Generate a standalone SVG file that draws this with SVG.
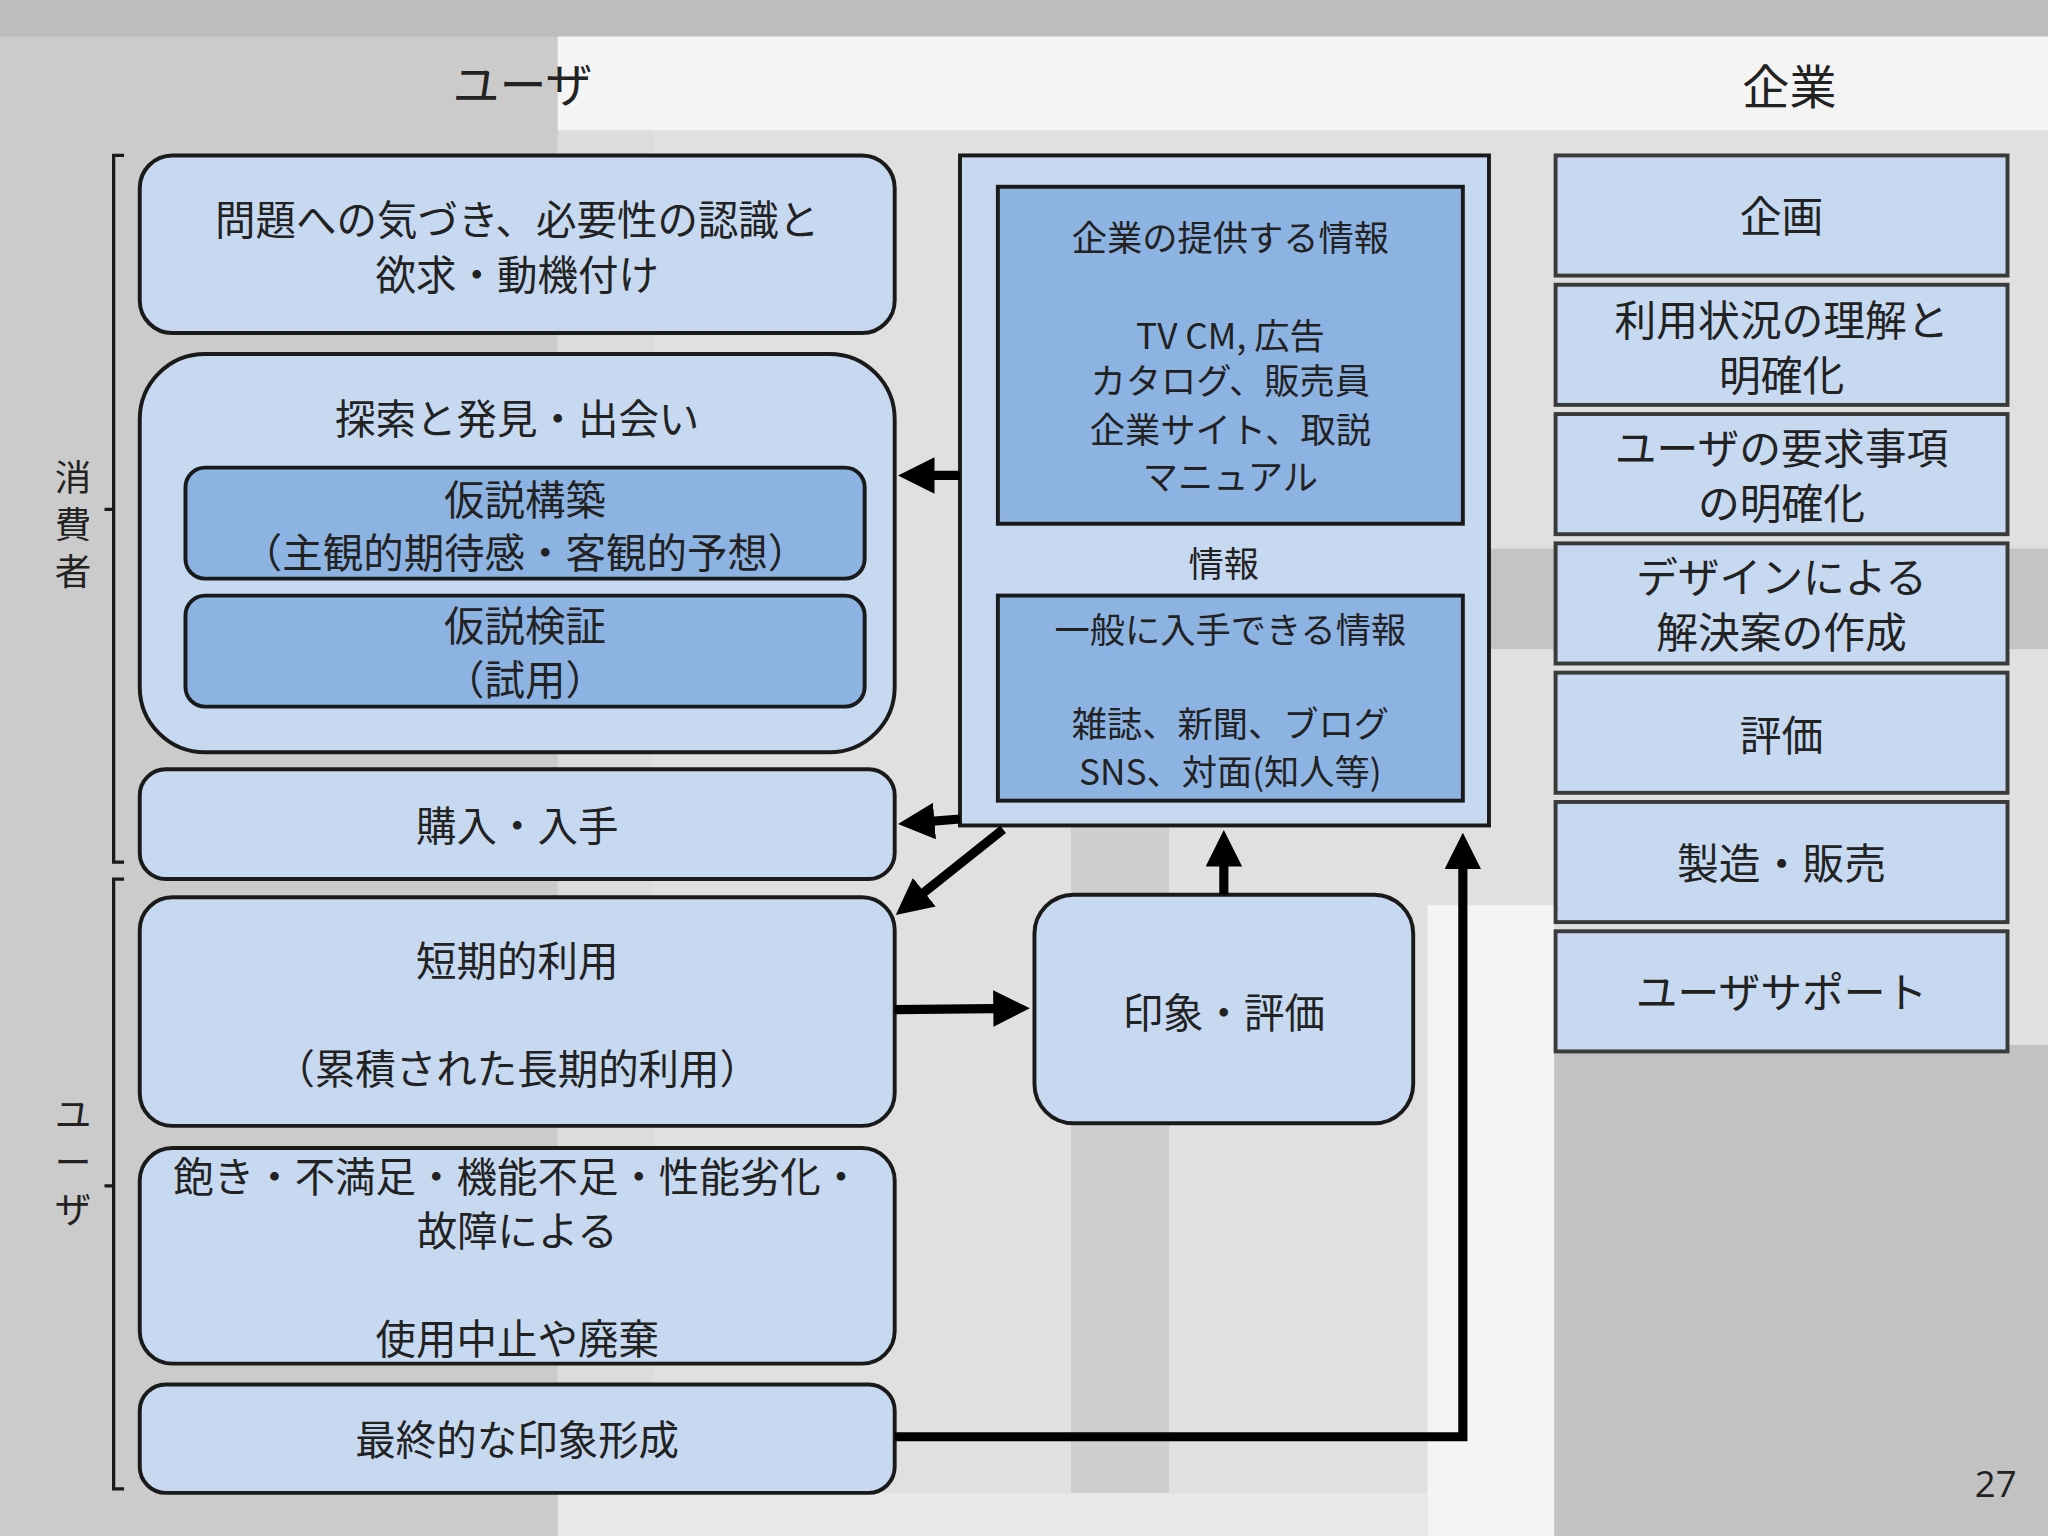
<svg xmlns="http://www.w3.org/2000/svg" width="2048" height="1536" viewBox="0 0 2048 1536">
<style>
.b{fill:#c6d9f1;stroke:#1a1a1a;stroke-width:3}
.d{fill:#8db3e2;stroke:#1a1a1a;stroke-width:3}
.r{fill:#c6d9f1;stroke:#3a3a3a;stroke-width:3}
text{font-family:"Noto Sans CJK JP","Liberation Serif",serif;fill:#222;text-anchor:middle}
.t{font-size:31px}.s{font-size:27px}.h{font-size:36px}.rt{font-size:32px}.v{font-size:28px}
.a{stroke:#000;stroke-width:7;fill:none}
.br{stroke:#1a1a1a;stroke-width:2.5;fill:none}
</style>
<defs><marker id="m" markerWidth="4" markerHeight="4" refX="2.5" refY="2" orient="auto" markerUnits="strokeWidth"><path d="M0,0L4,2L0,4z" fill="#000"/></marker></defs>
<g transform="scale(1.30612)">
<g id="bg">
<rect width="1568" height="1176" fill="#cbcbcb"/>
<rect width="1568" height="28" fill="#bdbdbd"/>
<rect x="427" y="28" width="1141" height="72" fill="#f4f4f4"/>
<rect x="427" y="100" width="73" height="1076" fill="#dcdcdc"/>
<rect x="500" y="100" width="1068" height="1076" fill="#e0e0e0"/>
<rect x="1140" y="420" width="428" height="77" fill="#c4c4c4"/>
<rect x="820" y="632" width="75" height="544" fill="#cfcfcf"/>
<rect x="1093" y="693" width="97" height="483" fill="#f4f4f4"/>
<rect x="1190" y="800" width="378" height="376" fill="#c2c2c2"/>
<rect x="427" y="1143" width="666" height="33" fill="#e8e8e8"/>
</g>
<g id="headers"><text x="400" y="78" class="h">ユーザ</text><text x="1370" y="80" class="h">企業</text><text x="1528" y="1146" style="font-family:'Open Sans','Liberation Sans',sans-serif;font-size:28px">27</text></g>
<g id="brackets">
<path class="br" d="M95,119H87V660H95M87,390H80"/>
<path class="br" d="M95,673H87V1140H95M87,908H80"/>
<text x="56" y="376" class="v">消</text><text x="56" y="412" class="v">費</text><text x="56" y="448" class="v">者</text>
<text x="56" y="864" class="v">ユ</text><text x="56" y="900" class="v">ー</text><text x="56" y="936" class="v">ザ</text>
</g>
<g id="n1"><rect class="b" x="107" y="119" width="578" height="136" rx="25"/><text x="396" y="180" class="t">問題への気づき、必要性の認識と</text><text x="396" y="222" class="t">欲求・動機付け</text></g>
<g id="n2"><rect class="b" x="107" y="271" width="578" height="305" rx="50"/><text x="396" y="332" class="t">探索と発見・出会い</text>
<rect class="d" x="142" y="358" width="520" height="85" rx="15"/><text x="402" y="394" class="t">仮説構築</text><text x="402" y="435" class="t">（主観的期待感・客観的予想）</text>
<rect class="d" x="142" y="456" width="520" height="85" rx="15"/><text x="402" y="491" class="t">仮説検証</text><text x="402" y="532" class="t">（試用）</text></g>
<g id="n3"><rect class="b" x="107" y="589" width="578" height="84" rx="20"/><text x="396" y="644" class="t">購入・入手</text></g>
<g id="n4"><rect class="b" x="107" y="687" width="578" height="175" rx="25"/><text x="396" y="747" class="t">短期的利用</text><text x="396" y="830" class="t">（累積された長期的利用）</text></g>
<g id="n5"><rect class="b" x="107" y="879" width="578" height="165" rx="25"/><text x="396" y="913" class="t">飽き・不満足・機能不足・性能劣化・</text><text x="396" y="954" class="t">故障による</text><text x="396" y="1037" class="t">使用中止や廃棄</text></g>
<g id="n6"><rect class="b" x="107" y="1060" width="578" height="83" rx="20"/><text x="396" y="1114" class="t">最終的な印象形成</text></g>
<g id="info"><rect class="b" x="735" y="119" width="405" height="513"/>
<rect class="d" x="764" y="143" width="356" height="258"/>
<text x="942" y="192" class="s">企業の提供する情報</text><text x="942" y="267" class="s">TV CM, 広告</text><text x="942" y="302" class="s">カタログ、販売員</text><text x="942" y="339" class="s">企業サイト、取説</text><text x="942" y="375" class="s">マニュアル</text>
<text x="937" y="442" class="s">情報</text>
<rect class="d" x="764" y="456" width="356" height="157"/>
<text x="942" y="492" class="s">一般に入手できる情報</text><text x="942" y="564" class="s">雑誌、新聞、ブログ</text><text x="942" y="601" class="s">SNS、対面(知人等)</text></g>
<g id="imp"><rect class="b" x="792" y="685" width="290" height="175" rx="30"/><text x="937" y="787" class="t">印象・評価</text></g>
<g id="right">
<rect class="r" x="1191" y="119" width="346" height="92"/><text x="1364" y="178" class="rt">企画</text>
<rect class="r" x="1191" y="218" width="346" height="92"/><text x="1364" y="257" class="rt">利用状況の理解と</text><text x="1364" y="299" class="rt">明確化</text>
<rect class="r" x="1191" y="317" width="346" height="92"/><text x="1364" y="355" class="rt">ユーザの要求事項</text><text x="1364" y="397" class="rt">の明確化</text>
<rect class="r" x="1191" y="416" width="346" height="92"/><text x="1364" y="454" class="rt">デザインによる</text><text x="1364" y="496" class="rt">解決案の作成</text>
<rect class="r" x="1191" y="515" width="346" height="92"/><text x="1364" y="575" class="rt">評価</text>
<rect class="r" x="1191" y="614" width="346" height="92"/><text x="1364" y="673" class="rt">製造・販売</text>
<rect class="r" x="1191" y="713" width="346" height="92"/><text x="1364" y="772" class="rt">ユーザサポート</text>
</g>
<g id="connectors">
<path class="a" marker-end="url(#m)" d="M735,364H698"/>
<path class="a" marker-end="url(#m)" d="M735,627L698,630"/>
<path class="a" marker-end="url(#m)" d="M768,635L694,694"/>
<path class="a" marker-end="url(#m)" d="M685,773L778,772"/>
<path class="a" marker-end="url(#m)" d="M937,685V646"/>
<path class="a" marker-end="url(#m)" d="M685,1100H1120V648"/>
</g>
</g>
</svg>
